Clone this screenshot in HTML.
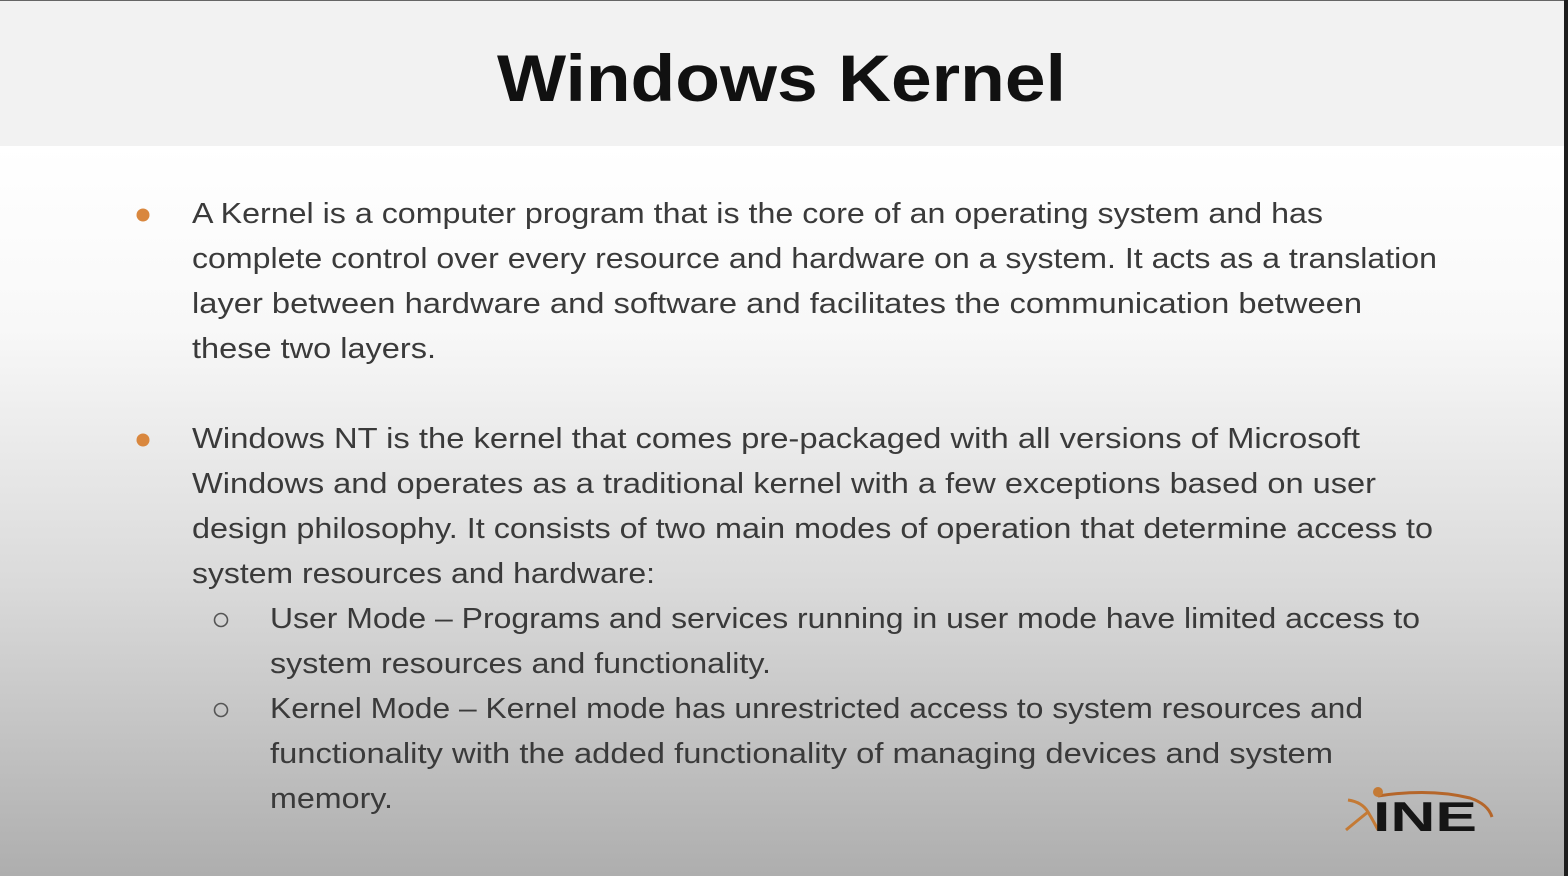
<!DOCTYPE html>
<html><head><meta charset="utf-8"><style>
html,body{margin:0;padding:0;width:1568px;height:876px;overflow:hidden;}
</style></head><body>
<svg width="1568" height="876" xmlns="http://www.w3.org/2000/svg">
<defs>
<linearGradient id="bg" x1="0" y1="0" x2="0" y2="1">
<stop offset="0" stop-color="#ffffff"/>
<stop offset="0.25" stop-color="#f8f8f8"/>
<stop offset="0.6" stop-color="#dadada"/>
<stop offset="1" stop-color="#aeaeae"/>
</linearGradient>
</defs>
<rect x="0" y="146" width="1568" height="730" fill="url(#bg)"/>
<rect x="0" y="0" width="1568" height="146" fill="#f2f2f2"/>
<rect x="0" y="0" width="1568" height="1" fill="#666"/>
<rect x="1564" y="0" width="4" height="876" fill="#1e1e1e"/>
<text x="497" y="101" font-family="Liberation Sans, sans-serif" font-weight="bold" font-size="66" fill="#111" textLength="569" lengthAdjust="spacingAndGlyphs">Windows Kernel</text>
<circle cx="143" cy="215" r="6.5" fill="#d9873e"/>
<circle cx="143" cy="440" r="6.5" fill="#d9873e"/>
<circle cx="221" cy="620" r="6.5" fill="none" stroke="#555" stroke-width="1.6"/>
<circle cx="221" cy="710" r="6.5" fill="none" stroke="#555" stroke-width="1.6"/>
<g font-family="Liberation Sans, sans-serif" font-size="29" fill="#3a3a3a">
<text x="192" y="223" textLength="1131" lengthAdjust="spacingAndGlyphs">A Kernel is a computer program that is the core of an operating system and has</text>
<text x="192" y="268" textLength="1245" lengthAdjust="spacingAndGlyphs">complete control over every resource and hardware on a system. It acts as a translation</text>
<text x="192" y="313" textLength="1170" lengthAdjust="spacingAndGlyphs">layer between hardware and software and facilitates the communication between</text>
<text x="192" y="358" textLength="244" lengthAdjust="spacingAndGlyphs">these two layers.</text>
<text x="192" y="448" textLength="1168" lengthAdjust="spacingAndGlyphs">Windows NT is the kernel that comes pre-packaged with all versions of Microsoft</text>
<text x="192" y="493" textLength="1184" lengthAdjust="spacingAndGlyphs">Windows and operates as a traditional kernel with a few exceptions based on user</text>
<text x="192" y="538" textLength="1241" lengthAdjust="spacingAndGlyphs">design philosophy. It consists of two main modes of operation that determine access to</text>
<text x="192" y="583" textLength="463" lengthAdjust="spacingAndGlyphs">system resources and hardware:</text>
<text x="270" y="628" textLength="1150" lengthAdjust="spacingAndGlyphs">User Mode – Programs and services running in user mode have limited access to</text>
<text x="270" y="673" textLength="501" lengthAdjust="spacingAndGlyphs">system resources and functionality.</text>
<text x="270" y="718" textLength="1093" lengthAdjust="spacingAndGlyphs">Kernel Mode – Kernel mode has unrestricted access to system resources and</text>
<text x="270" y="763" textLength="1063" lengthAdjust="spacingAndGlyphs">functionality with the added functionality of managing devices and system</text>
<text x="270" y="808" textLength="123" lengthAdjust="spacingAndGlyphs">memory.</text>
</g>
<g>
<path d="M1378 796 Q1430 788 1470 798 Q1488 804 1492 817" fill="none" stroke="#b5662a" stroke-width="3"/>
<circle cx="1378" cy="792" r="5" fill="#c47a35"/>
<path d="M1348 800 Q1362 802 1368 812 Q1374 822 1378 830" fill="none" stroke="#c47a35" stroke-width="3"/>
<path d="M1368 812 Q1358 820 1346 830" fill="none" stroke="#c47a35" stroke-width="3"/>
<text x="1373" y="831" font-family="Liberation Sans, sans-serif" font-weight="bold" font-size="42" fill="#151515" textLength="104" lengthAdjust="spacingAndGlyphs">INE</text>
</g>
</svg>
</body></html>
